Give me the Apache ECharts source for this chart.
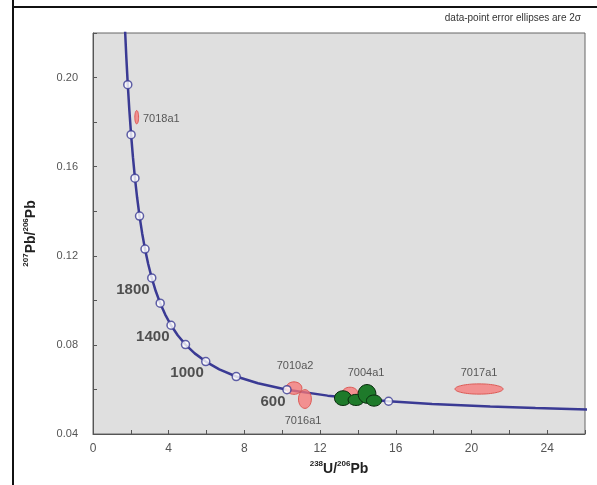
<!DOCTYPE html>
<html>
<head>
<meta charset="utf-8">
<script src="https://cdn.jsdelivr.net/npm/echarts@6/dist/echarts.min.js"></script>
<style>
html,body{margin:0;padding:0;background:#fff;}
#c{width:597px;height:485px;}
</style>
</head>
<body>
<div id="c"></div>
<script>
// Concordia curve points (238U/206Pb, 207Pb/206Pb)
const curveX = [26.36, 23.38, 20.99, 17.92, 15.62, 12.40, 10.25, 8.718, 7.568, 6.674, 5.959, 5.375, 4.888, 4.476, 4.123, 3.817, 3.550, 3.314, 3.105, 2.917, 2.749, 2.597, 2.459, 2.333, 2.217, 2.111, 2.013, 1.922, 1.838, 1.760, 1.687, 1.619];
const curveY = [0.05098, 0.05165, 0.05233, 0.05350, 0.05470, 0.05722, 0.05990, 0.06276, 0.06580, 0.06904, 0.07250, 0.07619, 0.08012, 0.08432, 0.08881, 0.09360, 0.09872, 0.10418, 0.11004, 0.11629, 0.12299, 0.13015, 0.13782, 0.14604, 0.15483, 0.16426, 0.17437, 0.18521, 0.19682, 0.20929, 0.22265, 0.23701];
// Age markers (every 200 Ma from 400 to 2800 Ma)
const markerX = [15.62, 10.25, 7.568, 5.959, 4.888, 4.123, 3.550, 3.105, 2.749, 2.459, 2.217, 2.013, 1.838];
const markerY = [0.05470, 0.05990, 0.06580, 0.07250, 0.08012, 0.08881, 0.09872, 0.11004, 0.12299, 0.13782, 0.15483, 0.17437, 0.19682];
// Age labels
const ageLabels = ['1800', '1400', '1000', '600'];
const ageLabelX = [2.11, 3.16, 4.97, 9.51];
const ageLabelY = [0.1045, 0.0835, 0.0673, 0.0543];
// Error ellipses: centre, half-widths, colour group
const ellX  = [2.31, 10.62, 11.20, 13.58, 13.21, 13.90, 14.48, 14.85, 20.40];
const ellY  = [0.1822, 0.0606, 0.0557, 0.0586, 0.0561, 0.0553, 0.0580, 0.0550, 0.0602];
const ellRX = [0.10, 0.42, 0.34, 0.40, 0.45, 0.42, 0.47, 0.40, 1.27];
const ellRY = [0.0030, 0.0028, 0.0042, 0.0024, 0.0033, 0.0025, 0.0042, 0.0025, 0.0023];
const ellGroup = ['red', 'red', 'red', 'red', 'green', 'green', 'green', 'green', 'red'];
// Sample labels
const sampleNames = ['7018a1', '7010a2', '7016a1', '7004a1', '7017a1'];
const sampleLabelX = [2.64, 10.68, 11.10, 14.43, 20.40];
const sampleLabelY = [0.1812, 0.0705, 0.0458, 0.0673, 0.0673];
const sampleAlign = ['left', 'center', 'center', 'center', 'center'];
// Axes
const xMin = 0, xMax = 26, xStep = 2;
const yMin = 0.04, yMax = 0.22, yStep = 0.02;

const chart = echarts.init(document.getElementById('c'));
const navy = '#3a3a94';

const ellData = ellX.map((x, i) => [x, ellY[i], ellRX[i], ellRY[i], ellGroup[i] === 'green' ? 1 : 0]);

chart.setOption({
  animation: false,
  backgroundColor: '#ffffff',
  textStyle: {fontFamily: 'Liberation Sans, Arial, sans-serif'},
  graphic: [
    {type: 'line', shape: {x1: 13, y1: 0, x2: 13, y2: 485}, style: {stroke: '#111', lineWidth: 2}, z: 100},
    {type: 'line', shape: {x1: 13, y1: 7, x2: 597, y2: 7}, style: {stroke: '#111', lineWidth: 2}, z: 100},
    {type: 'text', right: 16, top: 13, style: {text: 'data-point error ellipses are 2σ', fontSize: 10, fill: '#333', fontFamily: 'Liberation Sans, Arial, sans-serif'}}
  ],
  grid: {left: 93, right: 12, top: 33, bottom: 51, show: true, backgroundColor: '#dfdfdf', borderColor: '#666', borderWidth: 1},
  xAxis: {
    type: 'value', min: xMin, max: xMax, interval: xStep,
    name: '{sup|238}{b|U/}{sup|206}{b|Pb}', nameLocation: 'middle', nameGap: 26,
    nameTextStyle: {rich: {
      b: {fontSize: 14, fontWeight: 'bold', color: '#222', verticalAlign: 'bottom', lineHeight: 16},
      sup: {fontSize: 8, fontWeight: 'bold', color: '#222', verticalAlign: 'top', lineHeight: 16}
    }},
    axisLine: {show: true, lineStyle: {color: '#555'}},
    axisTick: {show: true, inside: true, length: 4, lineStyle: {color: '#555'}},
    splitLine: {show: false},
    axisLabel: {color: '#555', fontSize: 12, margin: 9,
      formatter: v => (Math.round(v) % 4 === 0 ? String(Math.round(v)) : '')}
  },
  yAxis: {
    type: 'value', min: yMin, max: yMax, interval: yStep,
    name: '{sup|207}{b|Pb/}{sup|206}{b|Pb}', nameLocation: 'middle', nameGap: 55, nameRotate: 90,
    nameTextStyle: {rich: {
      b: {fontSize: 14, fontWeight: 'bold', color: '#222', verticalAlign: 'bottom', lineHeight: 16},
      sup: {fontSize: 8, fontWeight: 'bold', color: '#222', verticalAlign: 'top', lineHeight: 16}
    }},
    axisLine: {show: true, lineStyle: {color: '#555'}},
    axisTick: {show: true, inside: true, length: 4, lineStyle: {color: '#555'}},
    splitLine: {show: false},
    axisLabel: {color: '#555', fontSize: 11, margin: 15,
      formatter: v => (Math.round(v * 100) % 4 === 0 ? v.toFixed(2) : '')}
  },
  series: [
    {
      type: 'line', data: curveX.map((x, i) => [x, curveY[i]]), showSymbol: false, symbol: 'none',
      lineStyle: {color: navy, width: 2.5}, clip: true, z: 2, silent: true
    },
    {
      type: 'custom', z: 3, clip: true,
      data: ellData,
      renderItem: function (params, api) {
        const c = api.coord([api.value(0), api.value(1)]);
        const s = api.size([api.value(2), api.value(3)]);
        const green = api.value(4) === 1;
        return {
          type: 'ellipse',
          shape: {cx: c[0], cy: c[1], rx: s[0], ry: s[1]},
          style: green
            ? {fill: '#1e7a2a', stroke: '#0a2a0e', lineWidth: 1}
            : {fill: 'rgba(248,118,118,0.75)', stroke: '#dd5a55', lineWidth: 1}
        };
      }
    },
    {
      type: 'scatter', data: markerX.map((x, i) => [x, markerY[i]]), symbol: 'circle', symbolSize: 8,
      itemStyle: {color: '#ffffff', borderColor: navy, borderWidth: 1.5}, z: 4, silent: true
    },
    {
      type: 'scatter', symbolSize: 0, z: 5, silent: true,
      data: ageLabels.map((t, i) => ({name: t, value: [ageLabelX[i], ageLabelY[i]]})),
      label: {show: true, position: 'inside', formatter: p => p.name, fontSize: 15, fontWeight: 'bold', color: '#2a2a2a'}
    },
    {
      type: 'scatter', symbolSize: 0, z: 5, silent: true,
      data: sampleNames.map((t, i) => ({name: t, value: [sampleLabelX[i], sampleLabelY[i]],
        label: {align: sampleAlign[i]}})),
      label: {show: true, position: 'inside', formatter: p => p.name, fontSize: 11, color: '#333'}
    }
  ]
});
</script>
</body>
</html>
